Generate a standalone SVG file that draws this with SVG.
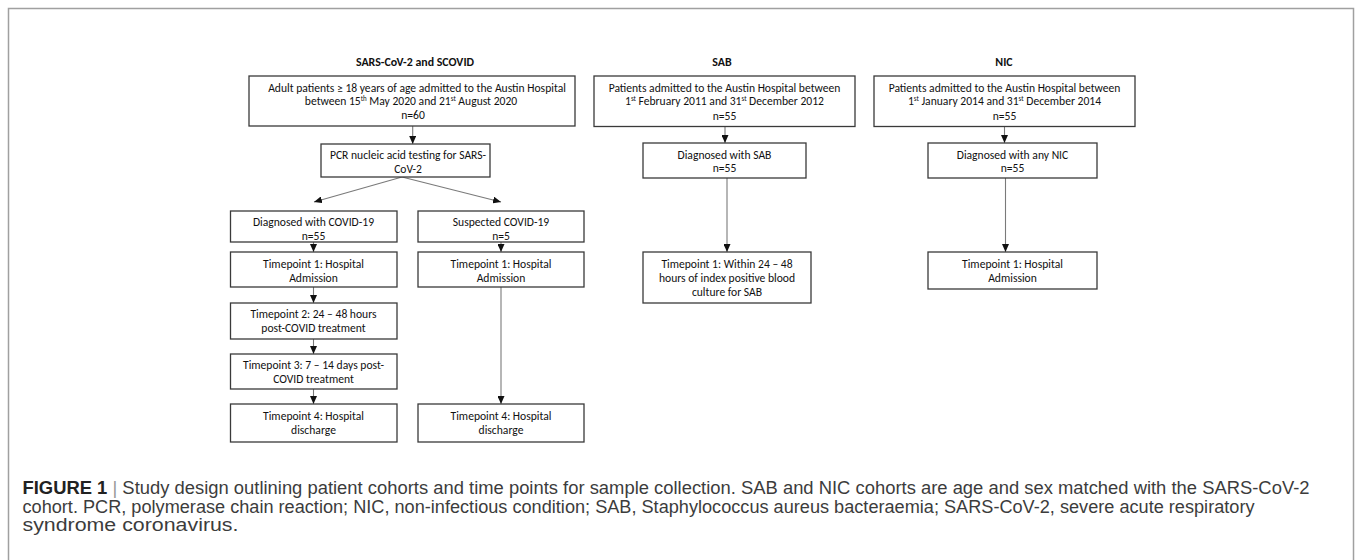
<svg xmlns="http://www.w3.org/2000/svg" width="1355" height="560" viewBox="0 0 1355 560">
<defs>
<marker id="ah" markerUnits="userSpaceOnUse" markerWidth="8" markerHeight="7" viewBox="0 0 8 7" refX="8" refY="3.5" orient="auto">
<path d="M0,0 L8,3.5 L0,7 Z" fill="#111"/>
</marker>
<style>
.box{fill:#fff;stroke:#3a3a3a;stroke-width:1.3}
.t{font-family:Carlito,Lato,"Liberation Sans",sans-serif;font-size:11.6px;fill:#111;text-anchor:middle}
.h{font-family:Carlito,Lato,"Liberation Sans",sans-serif;font-size:11.9px;font-weight:bold;fill:#111;text-anchor:middle}
.sup{font-size:7px}
.c{stroke:#7a7a7a;stroke-width:1.1;fill:none;marker-end:url(#ah)}
.cap{font-family:"Liberation Sans Narrow","Liberation Sans",Arial,sans-serif;font-size:17.5px;fill:#3c3c3c}
</style>
</defs>
<rect width="1355" height="560" fill="#fff"/>
<rect x="8.5" y="8.5" width="1345" height="600" fill="none" stroke="#a0a0a0" stroke-width="1.5"/>

<g id="titles">
<text class="h" x="415" y="66">SARS-CoV-2 and SCOVID</text>
<text class="h" x="722" y="66">SAB</text>
<text class="h" x="1004" y="66">NIC</text>
</g>

<g id="connectors">
<line class="c" x1="412.7" y1="126" x2="412.7" y2="144"/>
<line class="c" x1="402" y1="177" x2="314" y2="202"/>
<line class="c" x1="402" y1="177" x2="501" y2="202"/>
<line class="c" x1="313.5" y1="242" x2="313.5" y2="252"/>
<line class="c" x1="313.5" y1="287" x2="313.5" y2="303"/>
<line class="c" x1="313.5" y1="339" x2="313.5" y2="354"/>
<line class="c" x1="313.5" y1="389" x2="313.5" y2="404"/>
<line class="c" x1="501" y1="242" x2="501" y2="252"/>
<line class="c" x1="501" y1="287" x2="501" y2="404"/>
<line class="c" x1="725" y1="126.5" x2="725" y2="143"/>
<line class="c" x1="727" y1="178" x2="727" y2="252"/>
<line class="c" x1="1004.5" y1="126.5" x2="1004.5" y2="143"/>
<line class="c" x1="1005.5" y1="178" x2="1005.5" y2="252"/>
</g>

<g id="n-sars-start">
<rect class="box" x="249" y="76" width="326" height="50"/>
<text class="t" x="417" y="91.5">Adult patients ≥ 18 years of age admitted to the Austin Hospital</text>
<text class="t" x="411" y="105">between 15<tspan class="sup" dy="-4">th</tspan><tspan dy="4"> May 2020 and 21</tspan><tspan class="sup" dy="-4">st</tspan><tspan dy="4"> August 2020</tspan></text>
<text class="t" x="413" y="119">n=60</text>
</g>

<g id="n-pcr">
<rect class="box" x="321" y="144" width="169" height="33"/>
<text class="t" x="408" y="159">PCR nucleic acid testing for SARS-</text>
<text class="t" x="408" y="172.5">CoV-2</text>
</g>

<g id="n-diag-covid">
<rect class="box" x="230.5" y="211" width="166.5" height="31"/>
<text class="t" x="313.5" y="226.3">Diagnosed with COVID-19</text>
<text class="t" x="313.5" y="240">n=55</text>
</g>

<g id="n-susp-covid">
<rect class="box" x="418" y="211" width="166" height="31"/>
<text class="t" x="501" y="226.3">Suspected COVID-19</text>
<text class="t" x="501" y="240">n=5</text>
</g>

<g id="n-covid-tp1">
<rect class="box" x="230.5" y="252" width="166.5" height="35"/>
<text class="t" x="313.5" y="268">Timepoint 1: Hospital</text>
<text class="t" x="313.5" y="281.5">Admission</text>
</g>

<g id="n-covid-tp2">
<rect class="box" x="230.5" y="303" width="166.5" height="36"/>
<text class="t" x="313.5" y="318.3">Timepoint 2: 24 – 48 hours</text>
<text class="t" x="313.5" y="332.3">post-COVID treatment</text>
</g>

<g id="n-covid-tp3">
<rect class="box" x="230.5" y="354" width="166.5" height="35"/>
<text class="t" x="313.5" y="369">Timepoint 3: 7 – 14 days post-</text>
<text class="t" x="313.5" y="383">COVID treatment</text>
</g>

<g id="n-covid-tp4">
<rect class="box" x="230.5" y="404" width="166.5" height="38"/>
<text class="t" x="313.5" y="420">Timepoint 4: Hospital</text>
<text class="t" x="313.5" y="434">discharge</text>
</g>

<g id="n-susp-tp1">
<rect class="box" x="418" y="252" width="166" height="35"/>
<text class="t" x="501" y="268">Timepoint 1: Hospital</text>
<text class="t" x="501" y="281.5">Admission</text>
</g>

<g id="n-susp-tp4">
<rect class="box" x="418" y="404" width="166" height="38"/>
<text class="t" x="501" y="420">Timepoint 4: Hospital</text>
<text class="t" x="501" y="434">discharge</text>
</g>

<g id="n-sab-start">
<rect class="box" x="594" y="76" width="261" height="50.5"/>
<text class="t" x="724.5" y="91.5">Patients admitted to the Austin Hospital between</text>
<text class="t" x="724.5" y="105">1<tspan class="sup" dy="-4">st</tspan><tspan dy="4"> February 2011 and 31</tspan><tspan class="sup" dy="-4">st</tspan><tspan dy="4"> December 2012</tspan></text>
<text class="t" x="724.5" y="120">n=55</text>
</g>

<g id="n-sab-diag">
<rect class="box" x="643" y="143" width="163" height="35"/>
<text class="t" x="724.5" y="158.5">Diagnosed with SAB</text>
<text class="t" x="724.5" y="172">n=55</text>
</g>

<g id="n-sab-tp1">
<rect class="box" x="643" y="252" width="168" height="51"/>
<text class="t" x="727" y="267.5">Timepoint 1: Within 24 – 48</text>
<text class="t" x="727" y="281.8">hours of index positive blood</text>
<text class="t" x="727" y="296">culture for SAB</text>
</g>

<g id="n-nic-start">
<rect class="box" x="874" y="76" width="261" height="50.5"/>
<text class="t" x="1004.5" y="91.5">Patients admitted to the Austin Hospital between</text>
<text class="t" x="1004.5" y="105">1<tspan class="sup" dy="-4">st</tspan><tspan dy="4"> January 2014 and 31</tspan><tspan class="sup" dy="-4">st</tspan><tspan dy="4"> December 2014</tspan></text>
<text class="t" x="1004.5" y="120">n=55</text>
</g>

<g id="n-nic-diag">
<rect class="box" x="928" y="143" width="169" height="35"/>
<text class="t" x="1012.5" y="158.5">Diagnosed with any NIC</text>
<text class="t" x="1012.5" y="172">n=55</text>
</g>

<g id="n-nic-tp1">
<rect class="box" x="928" y="252" width="169" height="37"/>
<text class="t" x="1012.5" y="267.5">Timepoint 1: Hospital</text>
<text class="t" x="1012.5" y="282.3">Admission</text>
</g>

<g id="caption">
<text class="cap" x="22.5" y="494" textLength="1287" lengthAdjust="spacingAndGlyphs"><tspan font-weight="bold" fill="#222">FIGURE 1</tspan> <tspan fill="#999">|</tspan> Study design outlining patient cohorts and time points for sample collection. SAB and NIC cohorts are age and sex matched with the SARS-CoV-2</text>
<text class="cap" x="22.5" y="512.5" textLength="1232" lengthAdjust="spacingAndGlyphs">cohort. PCR, polymerase chain reaction; NIC, non-infectious condition; SAB, Staphylococcus aureus bacteraemia; SARS-CoV-2, severe acute respiratory</text>
<text class="cap" x="22.5" y="530.5" textLength="216" lengthAdjust="spacingAndGlyphs">syndrome coronavirus.</text>
</g>
</svg>
